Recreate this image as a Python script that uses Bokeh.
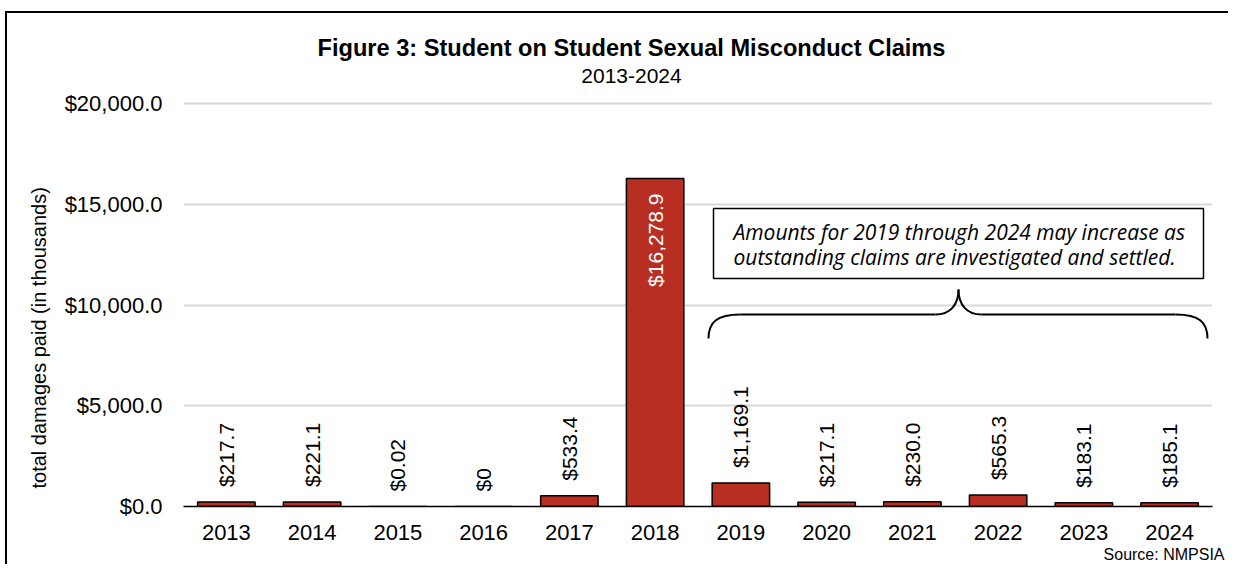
import math
from bokeh.plotting import figure
from bokeh.models import (ColumnDataSource, FactorRange, Range1d, NumeralTickFormatter,
                          FixedTicker, Label, BoxAnnotation, Title)
from bokeh.core.properties import value
from bokeh.embed import file_html
from bokeh.resources import INLINE

# ---------------- data ----------------
years = ["2013", "2014", "2015", "2016", "2017", "2018",
         "2019", "2020", "2021", "2022", "2023", "2024"]
damages = [217.7, 221.1, 0.02, 0.0, 533.4, 16278.9,
           1169.1, 217.1, 230.0, 565.3, 183.1, 185.1]
damage_labels = ["$217.7", "$221.1", "$0.02", "$0", "$533.4", "$16,278.9",
                 "$1,169.1", "$217.1", "$230.0", "$565.3", "$183.1", "$185.1"]
y_ticks = [0, 5000, 10000, 15000, 20000]
title_text = "Figure 3: Student on Student Sexual Misconduct Claims"
subtitle_text = "2013-2024"
y_title = "total damages paid (in thousands)"
note_lines = ["Amounts for 2019 through 2024 may increase as",
              "outstanding claims are investigated and settled."]
source_text = "Source: NMPSIA"

# ---------------- layout helpers (page pixels) ----------------
W, H = 1228, 564
FL, FR, FT, FB = 183, 1212, 103, 506   # frame: left, right, y of top tick, bottom
FTOP = 20                              # actual frame top (titles live inside the frame)
YMAX = 20000
NCAT = len(years)

def fx(px):
    return (px - FL) / (FR - FL) * NCAT

def fy(py):
    return (FB - py) / (FB - FT) * YMAX

BAR_COLOR = "#B92E22"
FONT = "Liberation Sans"
GAP = 15 / (FB - FT) * YMAX   # px gap between bar top and its label

p = figure(x_range=FactorRange(*years, range_padding=0), y_range=Range1d(0, fy(FTOP)),
           width=W, height=H, output_backend="svg", toolbar_location=None, title=None,
           min_border_left=FL, min_border_right=W - FR,
           min_border_top=FTOP, min_border_bottom=H - FB)
p.styles = {"background": "linear-gradient(#000,#000) 5px 11px / 100% 2px no-repeat, "
                          "linear-gradient(#000,#000) 5px 11px / 2px 100% no-repeat, #fff"}
p.outline_line_color = None
p.background_fill_color = "white"
p.border_fill_color = None

# grid / axes
p.xgrid.grid_line_color = None
p.ygrid.grid_line_color = "#D9D9D9"
p.ygrid.grid_line_width = 2
p.yaxis.ticker = FixedTicker(ticks=y_ticks)
p.yaxis.formatter = NumeralTickFormatter(format="$0,0.0")
p.yaxis.axis_line_color = None
p.yaxis.major_tick_line_color = None
p.yaxis.minor_tick_line_color = None
p.yaxis.major_label_standoff = 15
p.yaxis.major_label_text_font = FONT
p.yaxis.major_label_text_font_size = "22px"
p.yaxis.major_label_text_color = "#000"

p.xaxis.axis_line_color = "#000"
p.xaxis.axis_line_width = 1.5
p.xaxis.major_tick_line_color = None
p.xaxis.minor_tick_line_color = None
p.xaxis.major_label_standoff = 12
p.xaxis.major_label_text_font = FONT
p.xaxis.major_label_text_font_size = "22px"
p.xaxis.major_label_text_color = "#000"

# bars
src = ColumnDataSource(dict(year=years, val=damages))
p.vbar(x="year", top="val", width=0.67, source=src, fill_color=BAR_COLOR,
       line_color="#000", line_width=1.5)

# value labels
out_x, out_y, out_t, in_x, in_y, in_t = [], [], [], [], [], []
for yr, v, t in zip(years, damages, damage_labels):
    if v > YMAX / 2:
        in_x.append(yr); in_y.append(v - GAP); in_t.append(t)
    else:
        out_x.append(yr); out_y.append(v + GAP); out_t.append(t)
p.text(x=out_x, y=out_y, text=out_t, angle=math.pi / 2, text_align="left",
       text_baseline="middle", text_color="#000", text_font=value(FONT),
       text_font_size="21px")
p.text(x=in_x, y=in_y, text=in_t, angle=math.pi / 2, text_align="right",
       text_baseline="middle", text_color="#FFFFFF", text_font=value(FONT),
       text_font_size="21px")

# note box
p.add_layout(BoxAnnotation(left=fx(713), right=fx(1203), top=fy(208), bottom=fy(278),
                           fill_color="white", fill_alpha=1.0, line_color="#000",
                           line_width=1.5, line_alpha=1.0))
for i, line in enumerate(note_lines):
    p.add_layout(Label(x=fx(733), y=fy(231 + 25 * i), text=line, text_align="left",
                       text_baseline="middle", text_font="Open Sans",
                       text_font_style="italic", text_font_size="21px",
                       text_color="#000"))

# curly brace
bx0, bx1, bxm, by_end, by_mid, by_tip = 708, 1207, 958, 338, 314, 289
p.bezier(x0=[fx(bx0), fx(bx1)], y0=[fy(by_end)] * 2,
         x1=[fx(bx0 + 32), fx(bx1 - 32)], y1=[fy(by_mid)] * 2,
         cx0=[fx(bx0), fx(bx1)], cy0=[fy(by_mid + 8)] * 2,
         cx1=[fx(bx0 + 8), fx(bx1 - 8)], cy1=[fy(by_mid)] * 2,
         line_color="#000", line_width=2)
p.segment(x0=[fx(bx0 + 32), fx(bxm + 23)], y0=[fy(by_mid)] * 2,
          x1=[fx(bxm - 23), fx(bx1 - 32)], y1=[fy(by_mid)] * 2,
          line_color="#000", line_width=2)
p.bezier(x0=[fx(bxm - 23), fx(bxm + 23)], y0=[fy(by_mid)] * 2,
         x1=[fx(bxm), fx(bxm)], y1=[fy(by_tip)] * 2,
         cx0=[fx(bxm - 8), fx(bxm + 8)], cy0=[fy(by_mid)] * 2,
         cx1=[fx(bxm), fx(bxm)], cy1=[fy(by_mid - 10)] * 2,
         line_color="#000", line_width=2)

# title and subtitle (inside the tall frame, above the top grid line)
p.add_layout(Label(x=fx(631), y=fy(47), text=title_text, text_align="center",
                   text_baseline="middle", text_font=FONT, text_font_style="bold",
                   text_font_size="23.6px", text_color="#000"))
p.add_layout(Label(x=fx(631), y=fy(75), text=subtitle_text, text_align="center",
                   text_baseline="middle", text_font=FONT, text_font_style="normal",
                   text_font_size="21px", text_color="#000"))

# axis title and source
p.add_layout(Title(text=y_title, align="left", offset=FB - 488, standoff=24,
                   text_font=FONT, text_font_style="normal", text_font_size="20px",
                   text_color="#000"), "left")
p.add_layout(Title(text=source_text, align="right", offset=-12, standoff=2,
                   text_font=FONT, text_font_style="normal", text_font_size="16px",
                   text_color="#000"), "below")

open("out.html", "w").write(file_html(p, INLINE))
